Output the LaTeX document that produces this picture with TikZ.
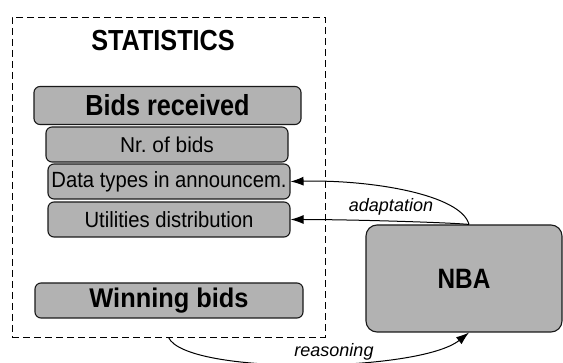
\documentclass[tikz,border=0pt]{standalone}
\usepackage{fontspec}
\setmainfont{Liberation Sans}
\usetikzlibrary{arrows.meta}
\frenchspacing
\newcommand{\narrowtext}[2][0.9]{\scalebox{#1}[1]{#2}}
\definecolor{boxgray}{HTML}{B2B2B2}
\begin{document}
\begin{tikzpicture}[x=1pt,y=-1pt,
  item/.style={draw=black!90, fill=boxgray, rounded corners=6pt, line width=1.1pt,
    inner sep=0pt, minimum width=242pt, minimum height=35pt,
    font=\fontsize{22}{22}\selectfont},
  headbox/.style={item, minimum width=267pt, minimum height=38pt,
    font=\bfseries\fontsize{29}{29}\selectfont},
  arr/.style={line width=1pt, -{Latex[length=13pt,width=9pt]}},
  lbl/.style={font=\itshape\fontsize{18}{18}\selectfont, inner sep=0pt}]
\useasboundingbox (0,0) rectangle (563,363);

% statistics panel
\node[draw, dash pattern=on 7pt off 4pt, line width=0.9pt,
  minimum width=313pt, minimum height=320pt, inner sep=0pt] (stats) at (168.5,177) {};
\node[font=\bfseries\fontsize{29}{29}\selectfont, inner sep=0pt] (title) at (163,41)
  {\narrowtext[0.87]{STATISTICS}};

\node[headbox] (recv) at (167.5,105.5) {\narrowtext[0.87]{Bids received}};
\node[item] (nr) at (167,144.5) {\narrowtext[0.97]{\fontsize{21.5}{21.5}\selectfont Nr. of bids}};
\node[item] (dtypes) at (169,181.5) {\narrowtext[0.92]{Data types in announcem.}};
\node[item] (util) at (169,219.5) {\narrowtext[0.92]{Utilities distribution}};
\node[headbox, minimum width=268pt, minimum height=35pt,
  font=\bfseries\fontsize{27}{27}\selectfont] (win) at (169,300.5)
  {\narrowtext[0.94]{Winning bids}};

% negotiation agent
\node[draw=black!90, fill=boxgray, rounded corners=11pt, line width=1.1pt,
  minimum width=196pt, minimum height=107pt, inner sep=0pt,
  font=\bfseries\fontsize{28}{28}\selectfont] (nba) at (464,278.5) {\narrowtext[0.87]{NBA}};

\coordinate (top) at ([xshift=5pt]nba.north);
\coordinate (bot) at ([xshift=5pt]nba.south);

% connectors
\draw[arr] (top) .. controls +(-8,-30) and +(80,-2) .. (dtypes.east);
\draw[arr] (top) .. controls +(-20,-2) and +(60,0) .. (util.east);
\draw[arr] (stats.south) .. controls +(18,38) and +(-50,40) .. (bot);

\node[lbl] (adapt) at (391,207) {adaptation};
\node[lbl] (reason) at (334,352) {reasoning};
\end{tikzpicture}
\end{document}
